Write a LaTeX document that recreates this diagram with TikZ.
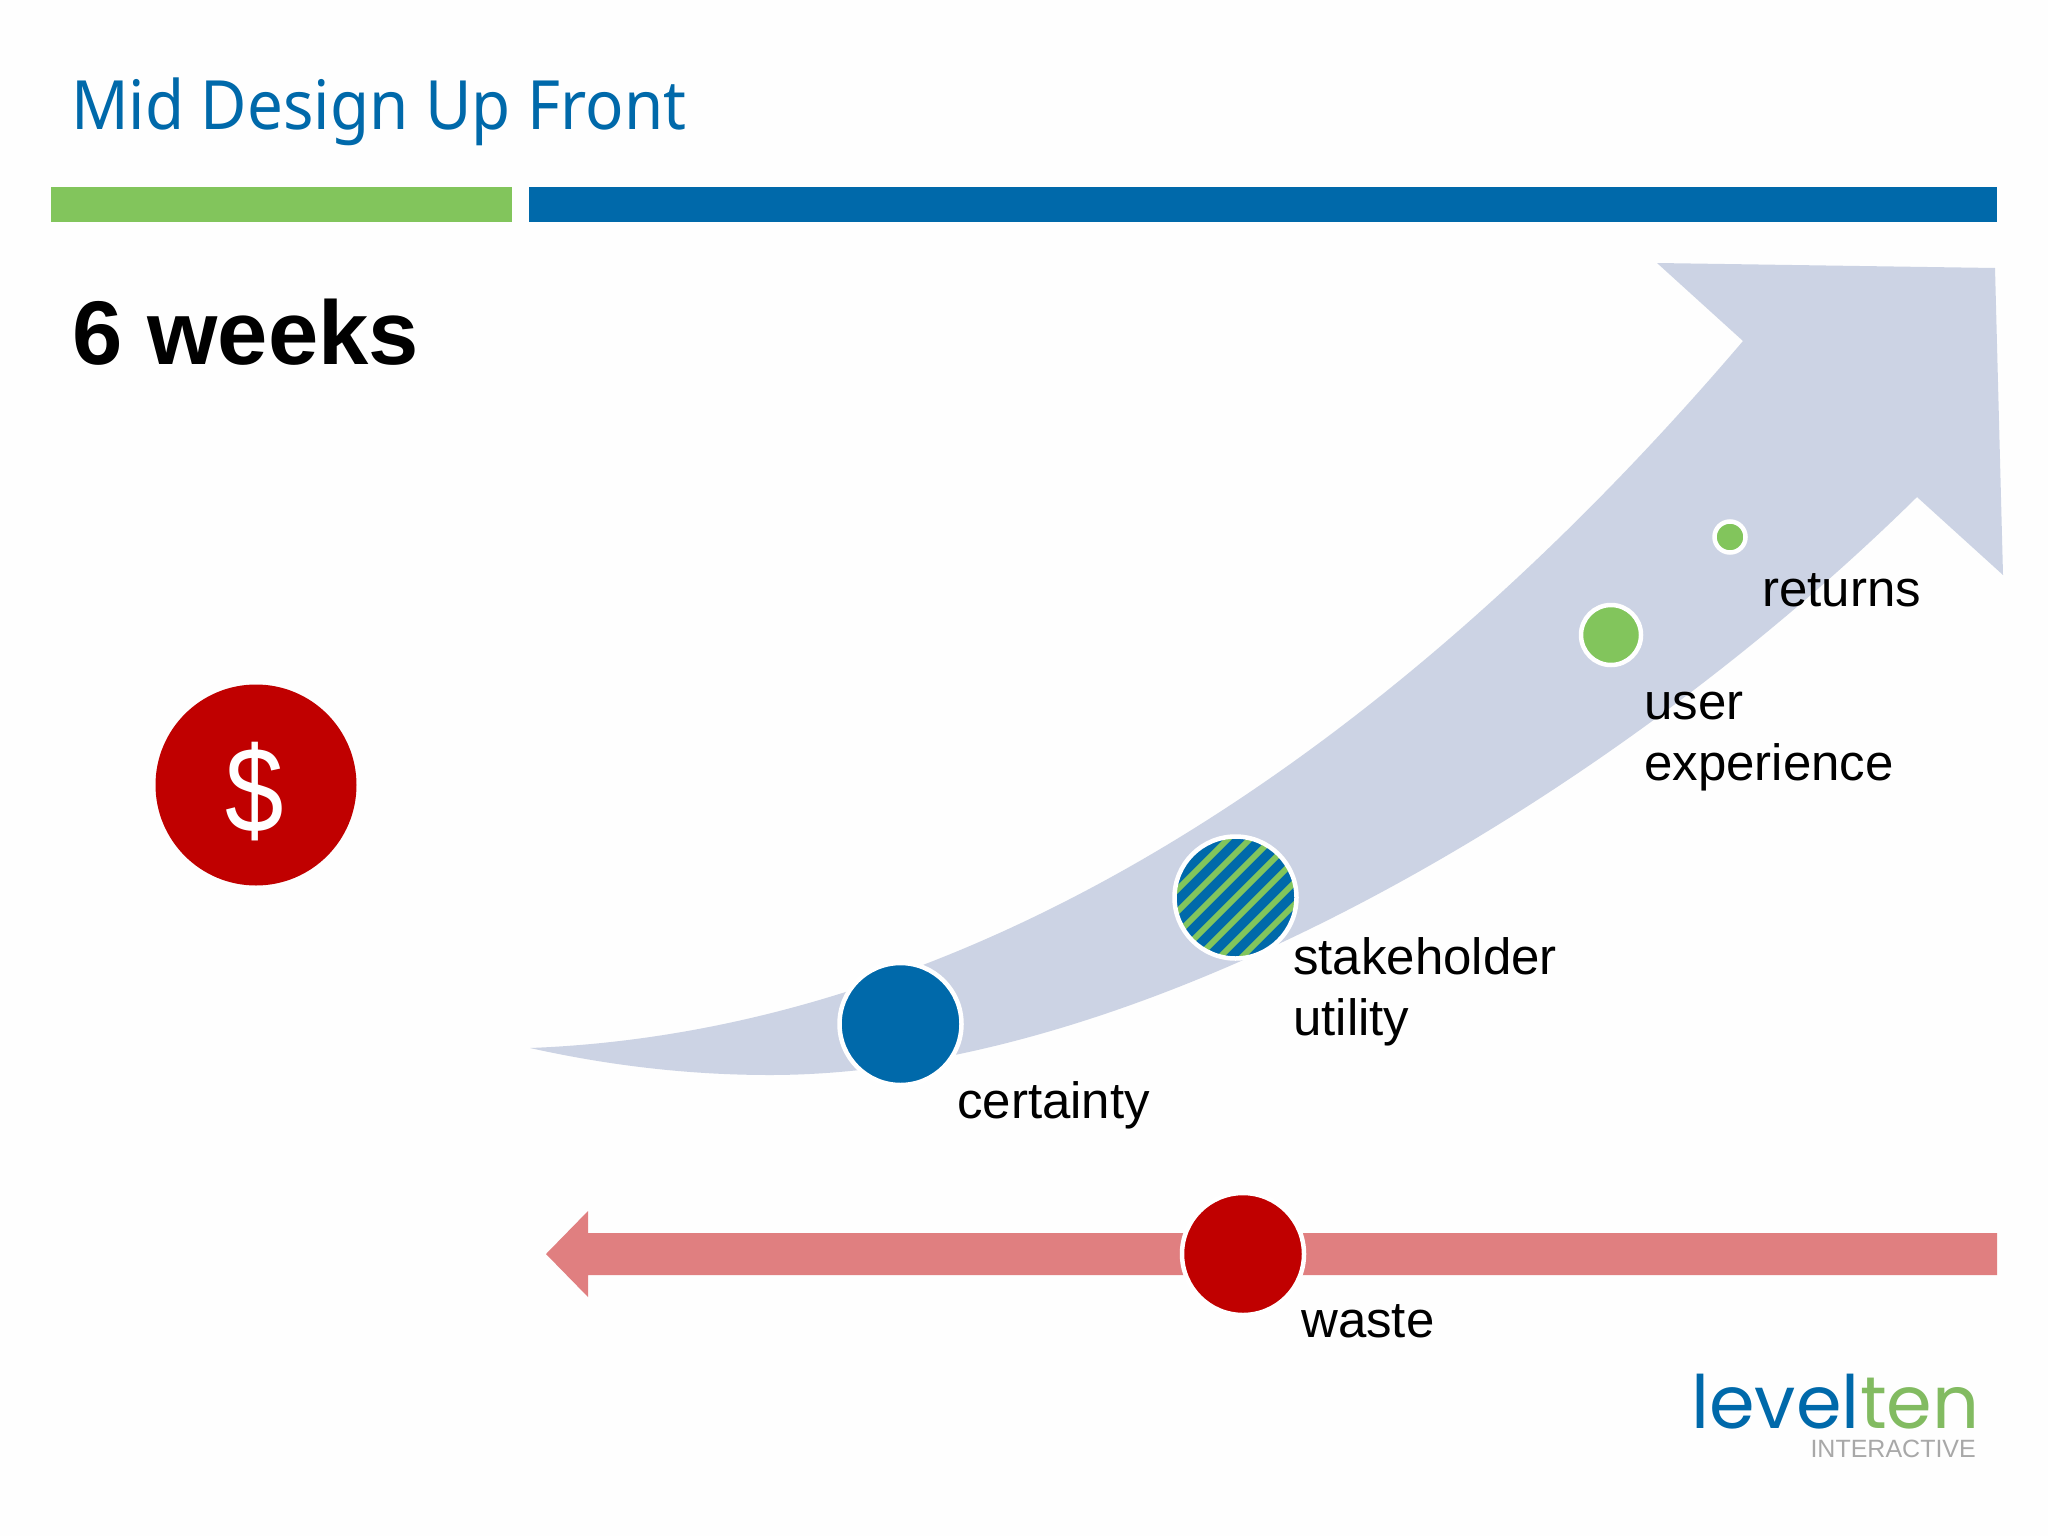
\documentclass[tikz,border=0pt]{standalone}
\usepackage{fontspec}
\setmainfont{Liberation Sans}
\newfontfamily\titlefont[FakeStretch=0.936]{Noto Sans}
\newfontfamily\logofont{Poppins}
\newfontfamily\dollarfont[FakeStretch=0.86]{Liberation Sans}
\definecolor{bgc}{HTML}{FEFEFE}
\definecolor{brandblue}{HTML}{0069AA}
\definecolor{brandgreen}{HTML}{82C55C}
\definecolor{curvec}{HTML}{CCD3E4}
\definecolor{wastebar}{HTML}{E07F80}
\definecolor{darkred}{HTML}{C00000}
\definecolor{logogray}{HTML}{A8A8A8}
\tikzset{
  dot/.style={circle,draw=white,line width=4.5pt,minimum size=#1,inner sep=0pt},
  lbl/.style={anchor=base west,inner sep=0pt,font=\fontsize{51}{61}\selectfont,align=left,text=black},
  logotext/.style={anchor=base west,inner sep=0pt,text depth=0pt,font=\logofont\fontsize{73.5}{80}\selectfont},
}
\begin{document}
\begin{tikzpicture}[x=1pt,y=-1pt]
\useasboundingbox (0,0) rectangle (2048,1536);
\fill[bgc] (0,0) rectangle (2048,1536);
% title
\node[anchor=base west,inner sep=0pt,text=brandblue,font=\titlefont\fontsize{68}{80}\selectfont] (title) at (71,130) {Mid Design Up Front};
\fill[brandgreen] (51,187) rectangle (512,222);
\fill[brandblue] (529,187) rectangle (1997,222);
\node[anchor=base west,inner sep=0pt,font=\bfseries\fontsize{90.4}{100}\selectfont] (weeks) at (72,364) {6 weeks};
% dollar
\node[circle,fill=darkred,minimum size=201pt,inner sep=0pt] (dollar) at (256,785) {};
\node[inner sep=0pt,text=white,font=\dollarfont\fontsize{122}{124}\selectfont] (dollarsign) at (255,792) {\$};
% curved arrow
\fill[curvec] (530,1048) .. controls (1000,1030) and (1420,720) .. (1743,341)
  -- (1657,263) -- (1995,268) -- (2003,575) -- (1917,497)
  .. controls (1620,790) and (1150,1075) .. (770,1075)
  .. controls (700,1075) and (620,1068) .. (530,1048) -- cycle;
% waste arrow
\fill[wastebar] (1997,1233) -- (588,1233) -- (588,1211) -- (546,1254) -- (588,1297) -- (588,1275) -- (1997,1275) -- cycle;
% circles
\node[dot=122pt,fill=brandblue] (certainty) at (900.5,1024) {};
\node[dot=122pt,fill=brandblue,path picture={
  \begin{scope}[shift={(path picture bounding box.center)}]
  \foreach \d in {-110,-88,...,110}
    \draw[brandgreen,line width=5.7pt] (\d-90,90) -- ++(180,-180);
  \end{scope}
}] (stake) at (1235.5,897.5) {};
\node[dot=60pt,fill=brandgreen] (ux) at (1611,635) {};
\node[dot=31pt,fill=brandgreen] (returnsdot) at (1730,537) {};
\node[dot=122pt,fill=darkred] (wastedot) at (1243,1254) {};
% labels
\node[lbl] (certaintyl) at (957,1118) {certainty};
\node[lbl] (stakel) at (1293,974) {stakeholder};
\node[lbl] (stakelb) at (1293,1035) {utility};
\node[lbl] (uxl) at (1644,719) {user};
\node[lbl] (uxlb) at (1644,780) {experience};
\node[lbl] (returnsl) at (1762,606) {returns};
\node[lbl] (wastel) at (1301,1337) {waste};
% logo
\node[logotext,text=brandblue] (logoa) at (1691,1428) {level};
\node[logotext,text=brandgreen!85!gray] (logob) at (logoa.base east) {ten};
\node[anchor=base east,inner sep=0pt,font=\fontsize{25}{28}\selectfont,text=logogray] (logoc) at (1976,1457) {INTERACTIVE};
\end{tikzpicture}
\end{document}
